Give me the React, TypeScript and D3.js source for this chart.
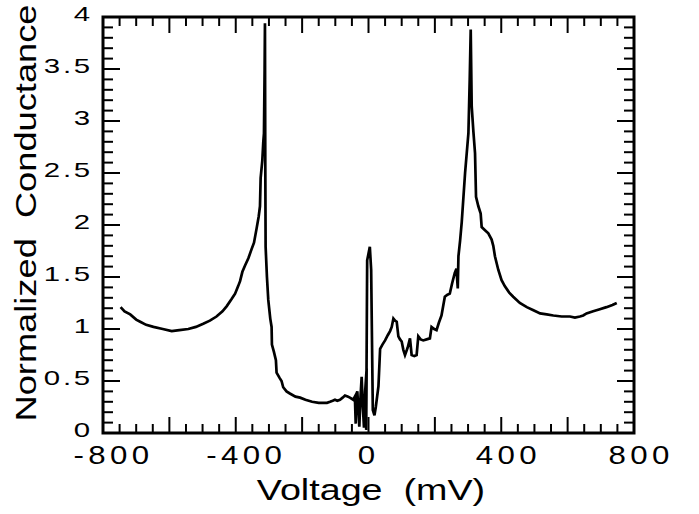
import { useRef, useEffect } from "react"
import * as d3 from "d3"

// Voltage (mV) and normalized conductance
const voltage = [
  -747, -735, -718, -700, -688, -670, -648, -620, -593, -570, -543, -520, -498, -478, -458, -440,
  -427, -412, -402, -393, -387, -380, -372, -362, -352, -345, -337, -331, -327, -325, -320, -317,
  -315, -313, -312, -311, -310, -306, -302, -296, -292, -291, -285, -279, -277, -268, -262, -257,
  -247, -237, -220, -206, -190, -170, -150, -136, -125, -116, -108, -101, -94, -86, -78, -71, -63,
  -56, -46, -41, -38.6, -36, -33.7, -30, -27.7, -24, -20.6, -17, -13.6, -10, -5.6, -7, -4, 4, 8, 13,
  18, 22, 30, 35, 42, 50, 58, 65, 70, 75, 80, 85, 90, 95, 100, 105, 110, 118, 125, 130, 138, 145,
  150, 157, 165, 175, 185, 190, 198, 205, 212, 220, 230, 238, 245, 252, 260, 265, 269, 271, 276,
  281, 291, 301, 305, 308, 311, 316, 321, 324, 331, 338, 341, 351, 361, 371, 376, 381, 391, 401,
  411, 424, 436, 456, 477, 497, 517, 537, 557, 582, 607, 622, 637, 647, 657, 677, 697, 717, 735, 748,
]
const conductance = [
  1.21, 1.17, 1.14, 1.09, 1.07, 1.04, 1.02, 1.0, 0.98, 0.99, 1.0, 1.02, 1.05, 1.08, 1.12, 1.17,
  1.22, 1.29, 1.34, 1.41, 1.46, 1.55, 1.61, 1.68, 1.77, 1.83, 1.97, 2.08, 2.18, 2.45, 2.62, 2.8,
  2.88, 3.5, 3.94, 2.6, 1.79, 1.5, 1.28, 1.1, 1.02, 0.85, 0.78, 0.7, 0.58, 0.53, 0.5, 0.44,
  0.4, 0.38, 0.35, 0.34, 0.32, 0.3, 0.29, 0.29, 0.29, 0.3, 0.31, 0.32, 0.31, 0.32, 0.34, 0.36, 0.35,
  0.34, 0.32, 0.35, 0.09, 0.38, 0.4, 0.2, 0.06, 0.35, 0.54, 0.25, 0.05, 0.4, 0.62, 0.03, 1.66, 1.79, 1.57, 0.22,
  0.17, 0.25, 0.45, 0.81, 0.85, 0.89, 0.94, 0.98, 1.02, 1.1, 1.08, 1.07, 0.93, 0.9, 0.88, 0.8, 0.75, 0.82, 0.91, 0.75, 0.74, 0.75,
  0.93, 0.9, 0.89, 0.9, 0.91, 1.02, 1.0, 0.99, 1.06, 1.13, 1.31, 1.33, 1.34, 1.44, 1.54, 1.58, 1.39, 1.7, 1.85,
  2.03, 2.5, 2.88, 3.4, 3.88, 3.14, 2.9, 2.69, 2.27, 2.18, 2.11, 1.98, 1.95, 1.92, 1.86, 1.8, 1.7, 1.57, 1.47,
  1.41, 1.35, 1.31, 1.25, 1.21, 1.18, 1.15, 1.14, 1.13, 1.12, 1.12, 1.11, 1.12, 1.13, 1.15, 1.17, 1.19, 1.21, 1.23, 1.25,
]

const xLabels = [-800, -400, 0, 400, 800]
const yLabels = ["0", "0.5", "1", "1.5", "2", "2.5", "3", "3.5", "4"]

export default function App() {
  const svgRef = useRef<SVGSVGElement>(null)

  useEffect(() => {
    if (!svgRef.current) return
    const svg = d3.select(svgRef.current)
    svg.selectAll("*").remove()

    const left = 103
    const right = 634
    const top = 17
    const bottom = 433

    const x = d3.scaleLinear().domain([-800, 800]).range([left, right])
    const y = d3.scaleLinear().domain([0, 4]).range([bottom, top])

    const font = "'Liberation Sans', Arial, Helvetica, sans-serif"

    // data line
    const pts = voltage.map((v, i) => [v, conductance[i]] as [number, number])
    const line = d3
      .line<[number, number]>()
      .x((d) => x(d[0]))
      .y((d) => y(d[1]))
    svg
      .append("path")
      .datum(pts)
      .attr("d", line)
      .attr("fill", "none")
      .attr("stroke", "black")
      .attr("stroke-width", 2.7)
      .attr("stroke-linejoin", "miter")

    // ticks on all four sides, pointing inward
    const ticks = svg.append("g").attr("stroke", "black").attr("stroke-width", 2)
    const xMinor = d3.range(-750, 800, 50)
    xMinor.forEach((v) => {
      const major = v % 200 === 0
      const len = major ? 16 : 9
      ticks.append("line").attr("x1", x(v)).attr("x2", x(v)).attr("y1", bottom).attr("y2", bottom - len)
      ticks.append("line").attr("x1", x(v)).attr("x2", x(v)).attr("y1", top).attr("y2", top + len)
    })
    const yMinor = d3.range(1, 40).map((d) => d / 10)
    yMinor.forEach((v, i) => {
      const major = (i + 1) % 5 === 0
      const len = major ? 17 : 10
      ticks.append("line").attr("y1", y(v)).attr("y2", y(v)).attr("x1", left).attr("x2", left + len)
      ticks.append("line").attr("y1", y(v)).attr("y2", y(v)).attr("x1", right).attr("x2", right - len)
    })

    // frame
    svg
      .append("rect")
      .attr("x", left)
      .attr("y", top)
      .attr("width", right - left)
      .attr("height", bottom - top)
      .attr("fill", "none")
      .attr("stroke", "black")
      .attr("stroke-width", 3)

    // x tick labels
    svg
      .append("g")
      .selectAll("text")
      .data(xLabels)
      .join("text")
      .attr("transform", (d) => `translate(${x(d) + (String(d).length - 1) * 3.5}, 464) scale(1.25,1)`)
      .attr("text-anchor", "middle")
      .attr("font-family", font)
      .attr("font-size", 25)
      .attr("letter-spacing", 3.5)
      .text((d) => String(d))

    // y tick labels
    svg
      .append("g")
      .selectAll("text")
      .data(yLabels)
      .join("text")
      .attr("transform", (d) => `translate(93, ${y(+d) + 4}) scale(1.4,1)`)
      .attr("text-anchor", "end")
      .attr("font-family", font)
      .attr("font-size", 21)
      .attr("letter-spacing", 2)
      .text((d) => d)

    // axis titles
    svg
      .append("text")
      .attr("transform", `translate(371, 500) scale(1.3,1)`)
      .attr("text-anchor", "middle")
      .attr("font-family", font)
      .attr("font-size", 29)
      .style("white-space", "pre")
      .text("Voltage  (mV)")

    svg
      .append("text")
      .attr("transform", `translate(36, 213) rotate(-90) scale(1.25,1)`)
      .attr("text-anchor", "middle")
      .attr("font-family", font)
      .attr("font-size", 29)
      .style("white-space", "pre")
      .text("Normalized  Conductance")
  }, [])

  return (
    <svg
      ref={svgRef}
      width={699}
      height={514}
      style={{ position: "absolute", left: 0, top: 0, background: "white" }}
    />
  )
}
